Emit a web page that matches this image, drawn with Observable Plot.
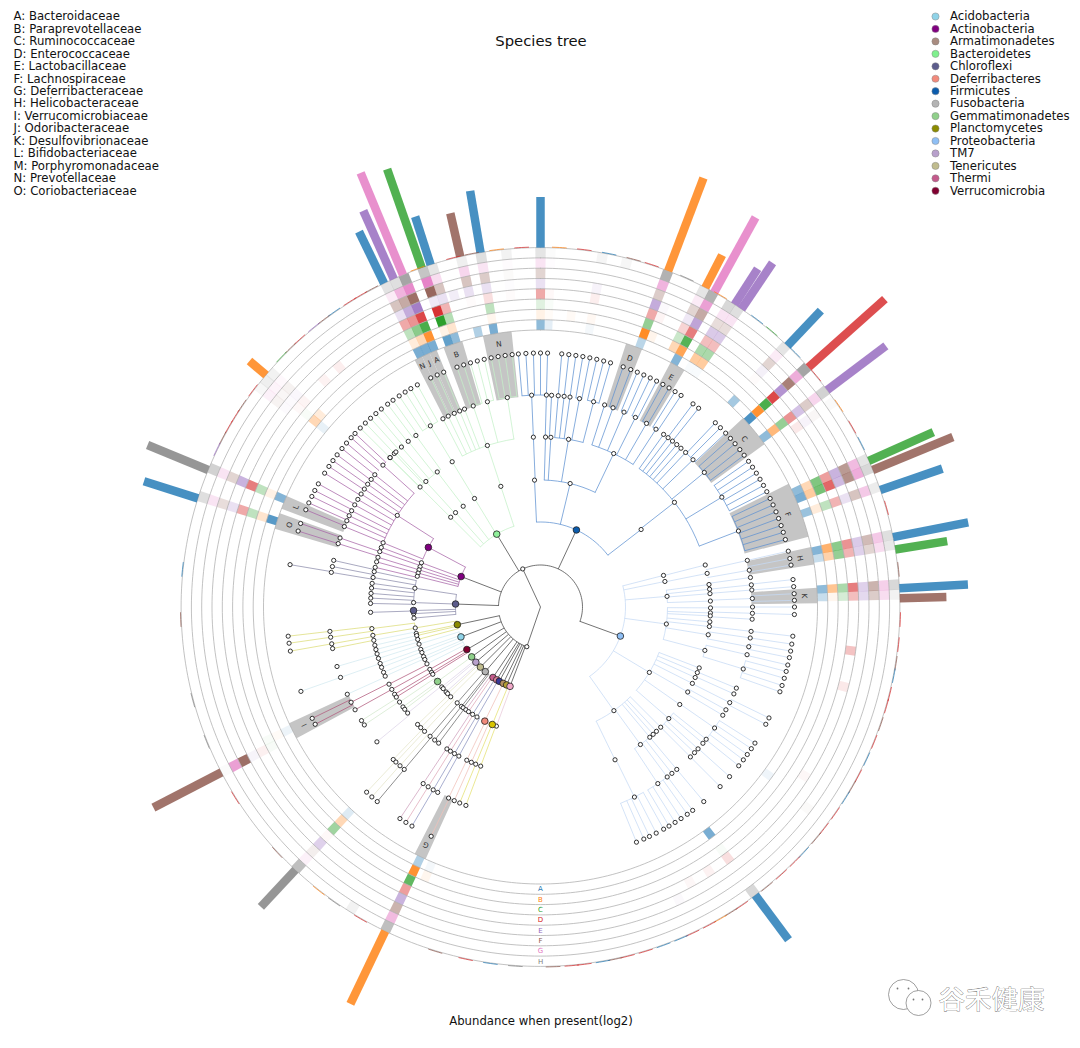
<!DOCTYPE html>
<html>
<head>
<meta charset="utf-8">
<script src="https://cdn.jsdelivr.net/npm/d3@7"></script>
<script src="https://cdn.jsdelivr.net/npm/@observablehq/plot@0.6"></script>
<style>html,body{margin:0;padding:0;background:#fff}svg{display:block}</style>
</head>
<body>
<div id="chart"></div>
<script>
// ---------- text ----------
const titleText = "Species tree";
const captionText = "Abundance when present(log2)";
const cladeKey = ["A: Bacteroidaceae","B: Paraprevotellaceae","C: Ruminococcaceae","D: Enterococcaceae","E: Lactobacillaceae","F: Lachnospiraceae","G: Deferribacteraceae","H: Helicobacteraceae","I: Verrucomicrobiaceae","J: Odoribacteraceae","K: Desulfovibrionaceae","L: Bifidobacteriaceae","M: Porphyromonadaceae","N: Prevotellaceae","O: Coriobacteriaceae"];
const phylumNames = ["Acidobacteria","Actinobacteria","Armatimonadetes","Bacteroidetes","Chloroflexi","Deferribacteres","Firmicutes","Fusobacteria","Gemmatimonadetes","Planctomycetes","Proteobacteria","TM7","Tenericutes","Thermi","Verrucomicrobia"];
const phylumColors = ["#8fd3e8","#800080","#a98c80","#7ff08e","#5c5c8c","#f28a7c","#0b5cad","#b4b4b4","#8fd08a","#8b8b00","#8fbff5","#b8a0cc","#c0bc8e","#c45a8c","#800030"];
const ringNames = ["A","B","C","D","E","F","G","H"];
const ringColors = ["#1f77b4","#ff7f0e","#2ca02c","#d62728","#9467bd","#8c564b","#e377c2","#7f7f7f"];

// ---------- heat columns: angle (deg clockwise from top), strength in rings A..H ----------
const heatAngles = [0,1.6,-5.5,-9.6,-12.8,-15.5,-17.6,-19.2,-22.4,-24,-25.6,-40,-43.6,-49,-50.5,-52,-67.2,-72,-117.4,-116,-137,-154.4,-157,-148,143.3,147.5,151.5,154.7,126.4,122.6,127,98,104.7,86.4,88,78.4,80,70.4,67.2,65.6,52.8,48,55,43.2,33.6,32,28.8,27.2,20.8,22.4,10,14,6];
const heatAlpha = [
 [.5,.1,.15,.4,.2,.25,.2,.2],[.12,.03,.03,.03,0,0,.02,.03],[0,0,0,.02,.02,.03,.03,.1],[.6,.07,.3,.15,.2,.3,.2,.25],
 [.35,0,0,.02,.2,.35,.3,.12],[0,0,0,0,.12,0,0,0],[.5,.2,.35,.35,.2,.35,.25,.2],[.7,.1,1,.95,.15,.9,.9,.45],
 [.6,.85,.85,.85,.85,.85,.85,.7],[.6,.3,.55,.5,.55,.5,.55,.25],[.6,.15,.3,.4,.2,.35,.15,.22],[0,0,0,.08,0,0,0,0],
 [0,0,0,.06,0,0,0,0],[0,.15,0,.05,.05,.08,.05,.1],[.1,.3,.03,.03,.03,.05,.08,.12],[0,0,0,0,.03,.07,.1,.06],
 [.55,.1,.3,.6,.5,.25,.2,.35],[.75,.2,.3,.4,.2,.2,.2,.25],[0,0,.04,.07,.07,.85,.7,.03],[.08,.03,.03,0,0,0,0,0],
 [.15,.3,.45,.03,.3,.1,.1,.5],[.35,.85,.75,.45,.5,.45,.5,.5],[.05,.07,0,0,0,0,0,0],[0,0,0,0,0,0,0,.1],
 [.6,0,.03,.15,0,0,0,.3],[0,0,0,.06,0,0,0,0],[0,0,0,.04,0,0,0,0],[0,0,0,0,.04,0,0,0],
 [.07,0,0,0,0,0,0,0],[0,0,0,.04,0,0,0,0],[0,0,0,0,0,.03,0,0],[0,0,0,.28,0,0,0,0],[0,0,0,.1,0,0,0,0],
 [.5,.45,.4,.6,.3,.45,.35,.3],[.25,.07,.2,.3,.25,.3,.25,.1],[.55,.6,.55,.5,.35,.4,.4,.25],[.25,.35,.5,.35,.3,.25,.25,.18],
 [.45,.15,.3,.35,.2,.35,.4,.15],[.6,.4,.65,.7,.45,.65,.6,.3],[.5,.3,.6,.45,.5,.6,.5,.2],[.5,.55,.5,.5,.4,.3,.3,.35],
 [.8,.85,.85,.85,.7,.75,.6,.7],[0,0,0,.1,.08,.05,0,.04],[.4,0,0,.02,.1,.25,.15,.2],[.03,.4,.4,.3,.35,.2,.2,.25],
 [.03,.4,.4,.3,.35,.2,.2,.3],[.55,.7,.8,.6,.6,.5,.7,.6],[0,.3,.25,.2,.15,.25,.15,.2],[.3,.9,.5,.4,.55,.3,.55,.6],
 [0,.08,0,.05,.04,0,0,0],[.05,.05,0,.08,.08,0,0,.08],[0,0,0,0,0,0,0,.07],[0,.04,0,0,0,0,0,0]
];

// ---------- outer bars ----------
const barAngles = [0,-9.6,-12.9,-17.8,-19.3,-22.5,-24.1,-25.8,-49.8,-67.6,-72.4,-117.4,-137,-154.4,143.3,87,88.6,78.8,80.8,71,67.6,66,52.9,48.2,43.4,34,32.7,28.9,27.3,20.8];
const barRadii = [410,422,404,410,464,470,434,417,381,425,416,436,410,440,415,428,406,436,412,425,446,430,433,462,408,415,402,445,396,459];
const barSeries = [0,0,5,0,2,6,4,0,1,7,0,5,7,1,0,0,5,0,2,0,5,2,4,3,0,4,4,6,1,1];

// ---------- small coloured dashes on the outer ring ----------
const dashAngles = [-3,-7,-11,-14,-20,-28,-30,-32,-35,-37,-39,-42,-44,-46,-53,-56,-58,-60,-62,-64,-84,-92,-105,-112,-122,-133,-142,-145,-150,-163,-168,-172,-176,3,7,11,15,18,24,30,37,40,45,50,56,60,63,74,84,92,96,99,101,104,106,109,112,115,118,120,122,125,128,130,133,135,138,141,146,148,150,152,155,157,160,163,166,168,170,173,175,178];
const dashSeries = [3,1,5,3,1,5,3,3,0,5,4,3,5,2,3,5,3,3,5,4,0,5,7,7,3,5,1,7,3,5,3,0,7,1,3,0,5,3,7,1,0,2,0,3,1,3,0,3,5,3,3,5,0,3,3,5,3,0,3,5,0,3,3,5,0,3,3,5,3,5,1,3,3,0,0,3,3,5,0,3,3,5];

// ---------- shaded clades ----------
const boxLabels = ["N","B","N","J","A","D","E","C","F","H","K","I","L","O","G"];
const boxStart = [-12,-20.5,-27,-25.3,-23.6,18,28,47,63.6,77.5,86,-118.3,-69.2,-73.6,-155.5];
const boxEnd = [-6,-16.4,-25.3,-23.6,-22,21.5,31.3,54,75.3,81.2,89.2,-114.8,-66.4,-70.2,-153];

// ---------- tree: [angle, ...children], a bare number is a leaf; depth gives the radius ----------
const firmicutes = [25,
 [-2.7,[-2.4,[-2.4,-5,-3.3,-1.6,0,1.6]]],
 [13.5,[1.7,1.6],[3.5,3],
  [9.5,[4.8,4.8],[6.4,6.4],[8,8],[10.6,9.6,11.2],[14.5,12.8,14.4,16]],
  [25.5,17.6,[20,19,20.8],[23.2,22.4,24],[26.6,25.6,27.2],[30,28.8,30.4],[33,32,33.6]]],
 [52.4,[52,35.5,[37,36.9],[38.5,38.5],40,41.5,43.2,[46,43.5,45.1,46.8],[50.6,48.4,50,51.7,53.3],[58.8,55,56.6,58.2,59.8,61.4,63],[69,64.7,66.3,68,69.6,71.3,72.9,74.6]]]
];
const bacteroidetes = [-31,
 [-18.2,[-18.2,[-9,-6.4,-8,-9.6,-11.2],[-14.5,-12.8,-14.4],[-18.5,-16,-17.6,-19.2],-21,[-22.4,-22.4],[-24,-24],[-25.8,-25.6],-27.4]],
 [-31.3,[-31.3,[-31.3,-29,-30.7,-32.2,-33.8]]],
 [-37.5,[-37.4,[-36,-35.5],[-38.6,-37],[-41,-38.8],[-43.6,-40.4],[-45.2,-42]]],
 [-42,[-42.4,[-43,-43.6]]],
 [-45,[-45.1,[-45.2,-45.2]]]
];
const actinobacteria = [-69,
 [-62,[-57.4,[-48,-46.9,-48.2],[-51.4,-49.8],[-53,-51.4],[-54.6,-53.2],[-56.2,-54.8],[-57.8,-56.4],[-59.5,-58.2],-61.2,[-63,-61],[-64.5,-62.7],[-66,-64.2,-65.8],[-67.7,-67.5]],-67.8],
 [-69.6,[-69.5,[-71,-70.8]]],
 [-71.5,[-71,[-72.6,-72.6]]],
 [-73,-73],[-74.5,-74.6],[-76,-76.5]
];
const chloroflexi = [-88,
 [-81.5,[-78,-77.3,-79,[-80.6,-80.4]],-80,-82,-83.6,-85.4,-87],
 [-88,-88.8],[-91.6,-91.8],-93,-95
];
const planctomycetes = [-102,
 [-99.5,[-97.3,[-96.6,-96.6],[-98.2,-98.2],[-100,-100]],[-99.6,-101.3]],-102,-103,-104.8
];
const acidobacteria = [-110.6,
 [-107,-101.3,-103],[-109.5,-104.5,[-106,-106.3]],[-111,-107.6],[-113,[-109.4,[-109.4,-109.4]]],[-114.4,-110.8],[-116.6,-112.6,[-114,-114.3]]
];
const verrucomicrobia = [-120,[-119.4,[-117,[-116.7,-116,-117.5]]],[-121,[-119,-119]],[-122,-120.9,-122]];
const gemmatimonadetes = [-125.9,[-125.9,[-124,-122.4],[-126,-123.8],-127]];
const tm7 = [-130.5,[-129,[-128.6,-129.5]],-130,-132];
const tenericutes = [-135,[-133,[-133.7,-136]],[-135,[-135.2,[-137,-136.8]],[-137,[-138.5,-138.4]]]];
const fusobacteria = [-139.5,[-139,[-139.5,[-140,-140]]],[-141.5,-141.5],[-142.5,-143.2]];
const thermi = [-146,[-144,[-146.6,[-146.4,-146.4]]]];
const thermiB = [-149,[-145.5,[-148,[-148,-148]]]];
const navyClade = [-151,[-147.7,[-149.6,[-149.6,-149.6]]],[-150,[-151.3,-151]]];
const deferribacteres = [-154,[-154,[-154.3,[-154.3,-154.5]],[-156,-156]]];
const oliveClade = [-156.5,[-157.7,[-157.6,-157.6],[-159.4,-159.4]]];
const paleClade = [-159,-159.7];
const proteobacteria = [110,
 [75.6,[75.7,[77.3,77.3]]],
 [78.4,[78.6,[80,79,80.5]]],
 [85.2,[82.4,82],[84,[84,83.8]],[85.5,[85.4,85.4]],[88,[87.7,87,88.5]]],
 [97.7,[90.3,[90,90]],[92,[91.7,91.7]],[93,93.3],95,[96.6,[96.6,96.6]],[99.4,[98.4,98.4],[100.8,100,101.5]],[104.8,[103,103.2],[107,104.7,106.3,108,109.5]]],
 [121,[111,112.5],[112.7,[114.2,115.9]],[114.5,[116.8,117.5]],[116.7,119],[120,120.7],[125,[124.8,122.4,123.9,125.5,127,128.7]],[131,128.6,130,[132,131.9],133.4,[135,135]]],
 [144.7,135,137,138.5,140,[144,[140,140],141.7,143.3,[146.4,143.2,144.7,146.4,148,149.6]],[154,[153.7,151,152.9,154.6,156,157.8]]]
];
const upperClades = [[actinobacteria,"#a866a8"],[chloroflexi,"#8c8cab"],[bacteroidetes,"#c4f0c8"],[firmicutes,"#5f92d2"],[proteobacteria,"#c6daf4"]];
const lowerClades = [[planctomycetes,"#dcdc78"],[acidobacteria,"#d3e9f0"],[verrucomicrobia,"#b25a7c"],[gemmatimonadetes,"#d3e8cc"],[tm7,"#ded4e8"],[tenericutes,"#e4e4c8"],[fusobacteria,"#6a6a6a"],[thermi,"#cfa0bc"],[thermiB,"#e0a8b8"],[navyClade,"#8c94c0"],[deferribacteres,"#f0c0b8"],[oliveClade,"#e4e070"],[paleClade,"#e8c8d8"]];
const upperAngle = -25, lowerAngle = -161;

// filled nodes: depth (2 or 3), angle, colour
const filledDepth = [2,2,2,2,3,2,3,2,2,2,2,3,2,2,2,2,2,2,2,2,2,3,3];
const filledAngle = [25,110,-31,-69,-62,-88,-91.6,-102,-110.6,-120,-125.9,-125.9,-130.5,-135,-139.5,-146,-149,-151,-154,-156.5,-159,-154,-157.7];
const filledColor = ["#0b5cad","#8fbff5","#8ff09a","#800080","#800080","#5c5c8c","#5c5c8c","#8b8b00","#8fd3e8","#800030","#8fd08a","#8fd08a","#b8a0cc","#c0bc8e","#b4b4b4","#c45a8c","#dc7f9a","#3a3a9a","#b59060","#b5a030","#f0a8c8","#f28a7c","#d8c400"];

// ---------- geometry ----------
const cx = 540, cy = 606.5;
const levelRadius = [0,42,85,127,170,212,254];
const ringRadius = ringNames.map((_, i) => 277 + i * 10.3);
ringRadius.push(277 + 8 * 10.3);
const outerR = ringRadius[8];
const px = (t, r) => cx + r * Math.sin(t * Math.PI / 180);
const py = (t, r) => cy - r * Math.cos(t * Math.PI / 180);
const arcAngles = (a, b, step) => { const n = Math.max(1, Math.ceil(Math.abs(b - a) / step)); return d3.range(n + 1).map(i => a + (b - a) * i / n); };

// polygons
const polys = [];
function wedge(id, a, b, r1, r2, color, alpha) {
  const top = arcAngles(a, b, 1);
  top.forEach(t => polys.push({id, x: px(t, r1), y: py(t, r1), color, alpha}));
  top.slice().reverse().forEach(t => polys.push({id, x: px(t, r2), y: py(t, r2), color, alpha}));
}
boxLabels.forEach((l, i) => wedge("b" + i, boxStart[i], boxEnd[i], levelRadius[5] - 1, ringRadius[0], "#c2c2c2", 0.95));
const cellHalf = 0.83;
heatAngles.forEach((t, c) => heatAlpha[c].forEach((a, i) => {
  if (a > 0) wedge("c" + c + "_" + i, t - cellHalf, t + cellHalf, ringRadius[i], ringRadius[i + 1], ringColors[i], a);
}));

// rings
const ringPts = ringRadius.flatMap((r, i) => d3.range(0, 361, 1).map(t => ({i, x: px(t, r), y: py(t, r)})));

// bars
const bars = barAngles.map((t, i) => ({x1: px(t, outerR), y1: py(t, outerR), x2: px(t, barRadii[i]), y2: py(t, barRadii[i]), color: ringColors[barSeries[i]]}));

// dashes
const dashPts = dashAngles.flatMap((t, i) => arcAngles(t - 1.1, t + 1.1, 0.6).map(a => ({i, x: px(a, outerR + 0.6), y: py(a, outerR + 0.6), color: ringColors[dashSeries[i]]})));

// tree walk
const links = [], arcs = [], nodes = [];
let arcId = 0;
const thetaOf = n => Array.isArray(n) ? n[0] : n;
function walk(node, depth, color) {
  const t = thetaOf(node), r = levelRadius[depth];
  nodes.push({x: px(t, r), y: py(t, r)});
  if (!Array.isArray(node)) return;
  const kids = node.slice(1);
  if (!kids.length) return;
  const ths = kids.map(thetaOf);
  const a = Math.min(...ths), b = Math.max(...ths);
  const col = depth < 2 ? "#444" : color;
  const id = arcId++;
  arcAngles(a, b, 3).forEach(q => arcs.push({id, x: px(q, r), y: py(q, r), color: col}));
  kids.forEach(k => {
    const q = thetaOf(k), rc = levelRadius[depth + 1];
    links.push({x1: px(q, r), y1: py(q, r), x2: px(q, rc), y2: py(q, rc), color: col});
    walk(k, depth + 1, color);
  });
}
function subRoot(angle, clades) {
  const r = levelRadius[1];
  links.push({x1: cx, y1: cy, x2: px(angle, r), y2: py(angle, r), color: "#444"});
  nodes.push({x: px(angle, r), y: py(angle, r)});
  const ths = clades.map(c => c[0][0]).concat(angle);
  const id = arcId++;
  arcAngles(Math.min(...ths), Math.max(...ths), 3).forEach(q => arcs.push({id, x: px(q, r), y: py(q, r), color: "#444"}));
  clades.forEach(([tree, color]) => {
    const q = tree[0], rc = levelRadius[2];
    links.push({x1: px(q, r), y1: py(q, r), x2: px(q, rc), y2: py(q, rc), color: "#444"});
    walk(tree, 2, color);
  });
}
subRoot(upperAngle, upperClades);
subRoot(lowerAngle, lowerClades);

const filled = filledAngle.map((t, i) => {
  const r = levelRadius[filledDepth[i]];
  return {x: px(t, r), y: py(t, r), color: filledColor[i]};
});

const boxLabelData = boxLabels.map((l, i) => {
  const t = (boxStart[i] + boxEnd[i]) / 2, r = i === 0 || i === 1 ? 266 : (i > 1 && i < 5 ? 268 : 264);
  return {l, x: px(t, r), y: py(t, r), rot: t};
});
const ringLabelData = ringNames.map((l, i) => ({l, x: cx, y: cy + (ringRadius[i] + ringRadius[i + 1]) / 2, color: ringColors[i]}));

const font = "DejaVu Sans";
const chart = Plot.plot({
  width: 1080, height: 1048,
  margin: 0,
  x: {domain: [0, 1080], range: [0, 1080], axis: null},
  y: {domain: [0, 1048], range: [0, 1048], axis: null},
  color: {type: "identity"},
  style: {background: "#fff"},
  marks: [
    Plot.line(polys, {x: "x", y: "y", z: "id", fill: "color", fillOpacity: "alpha", stroke: "none"}),
    Plot.line(ringPts, {x: "x", y: "y", z: "i", stroke: "#adadad", strokeWidth: 0.75}),
    Plot.link(bars, {x1: "x1", y1: "y1", x2: "x2", y2: "y2", stroke: "color", strokeWidth: 8.5, strokeOpacity: 0.82, strokeLinecap: "butt"}),
    Plot.line(dashPts, {x: "x", y: "y", z: "i", stroke: "color", strokeWidth: 1, strokeOpacity: 0.7}),
    Plot.line(arcs, {x: "x", y: "y", z: "id", stroke: "color", strokeWidth: 0.75}),
    Plot.link(links, {x1: "x1", y1: "y1", x2: "x2", y2: "y2", stroke: "color", strokeWidth: 0.75}),
    Plot.dot(nodes, {x: "x", y: "y", r: 2.1, fill: "#fff", stroke: "#111", strokeWidth: 0.85}),
    Plot.dot(filled, {x: "x", y: "y", r: 3.3, fill: "color", stroke: "#222", strokeWidth: 0.8}),
    Plot.text(boxLabelData, {x: "x", y: "y", text: "l", rotate: "rot", fontSize: 7.5, fontFamily: font, fill: "#333"}),
    Plot.text(ringLabelData, {x: "x", y: "y", text: "l", fill: "color", fontSize: 7, fontFamily: font}),
    Plot.text([titleText], {x: () => 540.5, y: () => 41, text: d => d, fontSize: 14.8, fontFamily: font, fill: "#111"}),
    Plot.text([captionText], {x: () => 540.5, y: () => 1020.5, text: d => d, fontSize: 11.7, fontFamily: font, fill: "#111"}),
    Plot.text(cladeKey, {x: () => 13, y: (d, i) => 16 + i * 12.45, text: d => d, textAnchor: "start", fontSize: 11.7, fontFamily: font, fill: "#111"}),
    Plot.dot(phylumNames, {x: () => 935, y: (d, i) => 16 + i * 12.45, r: 3.6, fill: (d, i) => phylumColors[i], stroke: "#888", strokeWidth: 0.5}),
    Plot.text(phylumNames, {x: () => 949.5, y: (d, i) => 16 + i * 12.45, text: d => d, textAnchor: "start", fontSize: 11.7, fontFamily: font, fill: "#111"}),
    // watermark
    Plot.dot(["a"], {x: () => 903, y: () => 994, r: 15, fill: "#fff", stroke: "#777", strokeWidth: 0.7}),
    Plot.dot(["b"], {x: () => 918, y: () => 1002.5, r: 12.5, fill: "#fff", stroke: "#777", strokeWidth: 0.7}),
    Plot.dot(["a","b","c","d"], {x: (d, i) => [897, 908, 913, 922][i], y: (d, i) => [988, 988, 999, 999][i], r: 0.9, fill: "#777"}),
    Plot.text(["谷禾健康"], {x: () => 938, y: () => 1000, text: d => d, textAnchor: "start", fontSize: 26.5, fontFamily: "Noto Sans CJK SC", fill: "#fff", stroke: "#666", strokeWidth: 0.7})
  ]
});
document.getElementById("chart").appendChild(chart);
</script>
</body>
</html>
